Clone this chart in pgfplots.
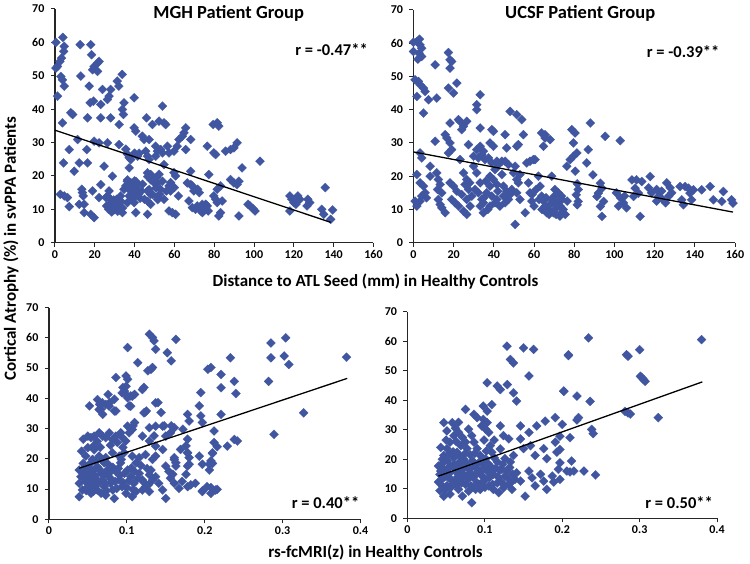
\documentclass[border=0pt]{standalone}
\usepackage{pgfplots}
\usepackage{pgfplotstable}
\pgfplotsset{compat=1.18}
\usepackage{fontspec}
\setmainfont{Carlito}
\definecolor{dotblue}{RGB}{64,86,161}

\pgfplotstableread{
x y
0.5 60
4 61.5
4.7 58.8
4.4 57.3
3.3 55.3
2.5 54.3
1.3 52.8
0.5 52.3
3 49.8
3.8 48.8
4.7 46.9
1.3 43.9
3.8 35.9
8 38.9
8.9 38.4
4.3 23.9
7.2 27.9
9.7 21.4
2.7 14.5
4.7 14
6.3 13.5
7.2 10.8
11.4 30.9
12.2 23.9
12.7 59.3
13 49.9
13.5 16
13.8 15
14.2 14
12.2 11.5
14.7 11.5
14.7 9
16 27.9
16.4 23.9
16.4 37.4
17.2 46.9
17.7 41.9
19.4 42.4
18 59.3
18.4 56.3
18.9 51.8
19.7 52.8
21.4 53.8
22.2 54.3
21.4 51.3
19.7 30.4
18.9 15.5
18 8.5
19.7 7.5
22.2 29.9
23 41.4
23 37.4
23.9 45.9
24.7 22.9
23 17.4
22.2 13.5
25.6 13.5
26.4 14
27.2 15.5
26.4 29.9
27.2 43.9
26.4 42.9
28 45.9
28 37.4
28.9 19.9
28 12
29 11
30 10
29.5 12.8
31 13
31.8 11.5
32.5 9.8
28.1 12.9
30.7 11.4
29.8 9.9
32.3 10.9
31.5 9.4
33.2 12.4
34 10.4
31.3 48.4
32.1 46.9
33.8 50.4
32.3 35.4
34.7 41.9
33.9 39.9
34.4 38.4
32.2 29.4
34.7 16
35.6 17
36.4 18.4
35.6 28
36.4 26.5
37.3 25.5
38.1 24.9
37.3 22.4
37.3 14
38.9 13
39.8 12
36.4 12
33.9 9
36.5 18.8
38.2 17.9
39.8 16.8
37.3 15.9
39 14.9
40.7 18.3
41.6 14.9
38.2 12.9
39.8 13.9
39.8 43.4
39.8 34.4
40.6 33.4
40 26.8
41.5 25.9
42.3 26.8
40 18.5
41.5 17.5
40.6 16.5
42 14.5
43.5 15.5
42.8 13.3
40.6 9
43.9 31.9
44.8 30.9
45.6 27.4
46.5 25.9
47.3 24.9
46 37.4
47.3 30.9
46.5 20.9
47.3 19.9
48.1 20.4
46.5 15.5
48.1 14.5
46.5 8.5
48.1 11.5
46.6 19.8
48.2 18.8
49.9 17.9
47.4 15.9
49.1 14.4
50.8 16.4
51.6 12.9
46.6 12.4
49 35.4
50.6 28.9
51.5 27.4
50.6 25.9
51 19.5
52.3 20.5
51.5 17.8
51.8 13.5
52.6 14.5
52.3 36.4
54 40.9
54.8 35.9
55.6 35.4
53.1 27.9
54 26.9
54.8 23.4
54 18.4
54.8 13
56.5 28.9
57.3 26.9
57.3 17
58.1 18
58.1 15.5
57.3 9.5
59 9
60.6 8.5
59.8 21
60.6 20
59.8 27.4
61.4 28.9
62.3 30.9
64 31.9
64.8 32.9
65.7 34.4
65.7 27.9
66.5 17.9
68.2 17.4
69 17
69.8 15.5
67.3 12.5
68.2 30.9
68.2 21.4
69 10.5
70.6 10
71.5 11
72.5 10.5
73.3 9.5
74.1 9
74.9 10
71.7 16
72.5 15
76.5 28.9
77.3 20.4
75.7 11.5
76.5 11
79.8 26.9
80.7 26.4
79.5 35.4
81.5 35.9
82.3 34.9
79.8 14
80.7 13
81.5 12
81.5 16
83.2 17
83.2 9
82.3 8
84 12.5
85.7 27.4
88.2 27.9
89.9 28.4
88.2 18.9
89.9 17.9
91.5 17.4
92.4 18.4
92.4 8
94 22.4
91.5 29.9
97 11.5
98 11
99.5 10.2
100.5 9.5
103 24.4
118 14
119 13
120 12
118 9.5
122 14
123 13
121 11.5
127 13
128 12
126.6 11
135.8 16.5
134 10
135 8.5
138.5 7
139.5 9.8
26 11
27 10
28.5 9.2
30.5 12.2
33 14
44 17.5
45 13
53 16
56 15.5
60 16.5
62 14
74 11.5
77 9.5
}\mgha

\pgfplotstableread{
x y
0 60.3
1.7 60.5
3 61.2
3.3 59.5
4.1 58.5
2.8 57
4.1 56
2.2 55.2
0 57.5
0.8 49
2.5 48.5
1.7 44
3.3 47.5
5 46.5
5.8 45.5
5 39
7.5 43
11.6 43.5
10.8 53.5
17.4 57.2
18.2 55
18.2 52.5
17.4 46.5
19 54.5
19.9 45
21.6 48
3.3 27
4.1 25.5
1.7 20.5
3.3 18
5 17
5.8 15
4.1 14
3.3 12.5
0.8 12.5
1.7 11
6.5 13.5
8.3 20
8.3 23
10.8 30.5
11.6 21
12.4 19
13.3 17.5
12 16
14.1 15
12.4 13
13.3 11.5
14.1 10.5
15.8 9
15.8 32.5
16.6 31.5
17.4 27
19 28
18.2 36
18.2 30
18.2 18
19.9 17
21.6 15.5
19 13
20.7 12
22.4 11
22.4 37
23.2 36.5
24.9 35
24 34
26.5 36.5
23.2 25
24.9 21
26.5 19
25.7 17.5
27.4 16
24 14.5
26.5 13
24.9 9.5
28.2 11
26.5 8.5
27.4 29.5
29.9 26
31.5 41.5
31.5 40
33.2 44.5
33.2 34.5
31.5 28
33.2 29
34.8 27.5
34 26.5
35.6 25
32.3 25.5
29.9 23
31.5 21
33.2 18
30.7 16
32.3 15
34 13
34.8 12
33.2 11
34.8 9
39 34
39.8 33.5
38.1 30
39.8 29
37.3 25.5
39 24
41.5 24.5
42.3 23.5
44 24.5
38.1 20
39.8 19
40.6 22
41.5 17.5
38.1 17
36.4 15
39 14
40.6 12
38.1 11
41.5 13
45.6 32.5
46.4 28.5
45.6 24.5
47.3 23.5
44.8 17
46.4 15.5
48.1 14.5
44.8 14
47.3 13
45.6 12
48.1 39.5
50.6 23
51.4 29
52.2 29.5
51.4 38.5
53.9 37
54.7 32.5
49.8 21
51.4 19
53 20.5
52.2 18
50.6 5.5
48.9 16
51.4 15
53 13
56.4 24
58 24.5
59.7 25
60.5 25
55.6 9
57.2 18
58 15
58.9 12.5
62.2 20
63 17
63.8 14
64.7 12.5
65.5 11
66.3 9
67.1 10
68 11.5
68.8 13
69.6 9
70.4 10
71.2 11.5
72 12.5
72.9 8
73.7 9
74.5 10
63.8 33
65.5 32.5
65.5 31.5
64.7 29
68 31
68.8 20
70.4 16
72 15
73.7 14
76.3 23
78 25
79.6 26
78.8 34
80.4 33
79.6 30
81.3 27
80.5 21.5
81.5 17.7
82 16
81 14.4
82 12.4
81.5 11.4
87 28
88 36
86.2 24
89.3 20.4
93 17.9
93.8 16.4
92 14.9
91.3 13.9
94.6 12.4
93 10.9
93.8 7.9
95.4 32
102.9 30.7
101 15
103 13.5
104.5 12
102 11
105 14
106 10.5
108.7 18.9
111 18.9
113.6 18.4
110.3 16.4
112 14.9
109.5 13.9
112.8 7.9
117.8 19.9
117 16.5
118.5 15
121 16
122 14
121 12.5
124 13
123.5 15.5
126 18
127.7 16.5
127 14
125.5 12
128.5 15
132.7 16.9
135.2 16.9
136.8 16.4
137.6 14.9
133.5 12.9
134.3 11.4
138.4 12.9
139.3 15.9
143.4 15.9
147.6 16.9
149.2 12.9
153.4 12.4
154.2 15.4
158.3 12.9
159 11.9
61 16
62.5 13
64 10
66 13.5
67.5 8.5
69 12
70 14
71 8.5
73 11
74 13
75.5 8.5
76.5 12.5
60 11
59 14.5
36 18.5
35 13.5
37 10
42 15.5
43 11
29 14
28 18
44 20.5
}\ucsfa

\pgfplotstableread{
x y
0.129 61.2
0.133 60.1
0.135 59
0.137 56.2
0.163 59.5
0.152 55.1
0.157 52.4
0.101 56.8
0.114 51.8
0.127 49.1
0.131 49.6
0.133 50.2
0.086 46.9
0.099 47.4
0.101 46.3
0.095 43.6
0.097 42.4
0.099 41.3
0.105 40.8
0.11 41.3
0.122 43.6
0.103 37.5
0.052 37.5
0.065 38
0.067 36.4
0.069 34.7
0.076 41.3
0.078 38.6
0.084 39.7
0.086 35.8
0.123 35.3
0.125 35.8
0.14 38.6
0.144 35.3
0.157 30.9
0.161 30.3
0.148 30.9
0.172 29.8
0.129 30.3
0.135 27.6
0.11 32
0.108 30.9
0.105 29.8
0.050 27.5
0.054 27
0.058 27.5
0.050 23.7
0.057 24.2
0.0645 28.6
0.0688 27.5
0.073 27
0.0774 28.6
0.0816 26.4
0.0859 27.5
0.088 25.4
0.0923 28.6
0.0944 27
0.0987 25.9
0.103 28.6
0.107 29.7
0.101 30.8
0.0474 20.9
0.056 19.8
0.0645 20.9
0.073 20.4
0.0816 22
0.0902 20.9
0.0966 22
0.107 20.9
0.116 20.4
0.124 21.4
0.133 19.8
0.137 20.9
0.0389 16.3
0.041 14.1
0.039 11.9
0.043 9.7
0.039 7.5
0.047 17.4
0.050 14.7
0.047 12.5
0.052 10.2
0.054 8.6
0.056 15.8
0.060 13.6
0.058 11.4
0.062 17.4
0.067 15.2
0.069 13
0.071 10.8
0.067 8.6
0.075 16.3
0.077 14.1
0.079 11.9
0.082 9.7
0.084 6.9
0.086 15.8
0.090 13
0.094 10.8
0.099 8.6
0.101 16.3
0.105 14.1
0.109 11.9
0.112 9.2
0.116 15.2
0.120 13
0.124 10.8
0.129 9.2
0.131 16.3
0.137 14.1
0.141 11.9
0.146 9.7
0.150 6.9
0.154 15.8
0.156 13.6
0.161 11.9
0.167 10.2
0.171 12.5
0.178 10.8
0.182 11.4
0.188 11.9
0.197 9.2
0.203 10.8
0.208 8.6
0.214 9.7
0.161 20.4
0.163 18.7
0.169 23.1
0.178 22
0.180 20.4
0.178 17.6
0.176 14.9
0.193 20.9
0.197 18.2
0.206 16.3
0.210 18.5
0.210 21.8
0.216 24
0.052 18.2
0.045 15.8
0.054 13
0.050 10.8
0.062 9.7
0.073 8
0.107 7.5
0.12 9.7
0.129 14.7
0.092 18.7
0.071 18.7
0.060 19.3
0.112 18.7
0.150 17.6
0.146 23.1
0.137 24.2
0.129 25.9
0.120 27.5
0.150 27.5
0.156 28.6
0.137 30.8
0.0624 39.6
0.0688 38.5
0.073 38
0.0645 36.3
0.0774 37.4
0.084 35.8
0.101 40.2
0.105 37.4
0.094 41.8
0.099 44
0.107 40.7
0.120 42.9
0.122 35.2
0.137 38.5
0.146 30.8
0.285 58.3
0.304 60
0.233 53.4
0.285 53.4
0.302 54
0.308 51.2
0.221 47.9
0.238 45.6
0.282 45.6
0.221 43.5
0.240 41.6
0.221 34.7
0.327 35.2
0.289 28.1
0.238 26.4
0.242 25.9
0.229 24.2
0.216 9.9
0.382 53.6
0.204 49.6
0.208 50.2
0.195 41.9
0.178 34.7
0.18 32.5
0.193 37.5
0.195 34.2
0.197 32
0.212 29.2
0.212 25.4
0.21 22
0.208 19.3
0.206 18.2
0.197 9.4
0.208 10.5
0.178 26.5
0.176 24.3
0.178 22
0.18 18.2
0.161 19.8
0.163 17.6
0.159 14.9
0.044 18.5
0.046 13.5
0.048 9.5
0.053 16.8
0.055 12.2
0.057 9.2
0.059 14.5
0.063 11.8
0.065 16.5
0.068 19.5
0.070 14.8
0.072 12
0.074 9.5
0.076 18.2
0.078 15.5
0.080 13.2
0.082 17.2
0.085 12.5
0.087 10.2
0.089 16.8
0.091 14.5
0.093 19.8
0.095 12.2
0.097 15.2
0.100 10.5
0.103 12.8
0.106 17
0.108 9.8
0.110 15.8
0.114 13.5
0.118 17.8
0.122 12.2
0.126 16.8
0.128 11.5
0.133 13
0.042 22.5
0.058 23
0.066 23.8
0.079 24.5
0.095 23.8
0.044 26.5
0.062 25.8
}\mghb

\pgfplotstableread{
x y
0.1286 58.3
0.150 57.7
0.163 57.2
0.133 53.8
0.137 52.6
0.157 48.2
0.103 45.9
0.116 44.8
0.120 43.6
0.129 45.3
0.137 42.5
0.141 39.7
0.109 38.5
0.098 38
0.103 36.3
0.075 36.9
0.086 35.2
0.090 34.1
0.098 33.5
0.103 32.4
0.096 31.3
0.101 30.2
0.105 29.1
0.047 32.4
0.058 32.4
0.051 29.6
0.060 28
0.055 25.8
0.066 29.1
0.071 27.4
0.069 24.6
0.075 25.8
0.079 30.2
0.083 28
0.086 25.8
0.090 23.6
0.077 23.6
0.064 22.4
0.051 23.6
0.047 21.3
0.094 21.3
0.101 20.2
0.107 24.6
0.109 22.4
0.124 28
0.131 26.9
0.120 31.3
0.146 31.3
0.157 29.1
0.167 31.3
0.178 32.9
0.191 34.1
0.202 43.1
0.208 55.4
0.159 24.6
0.165 21.3
0.176 23.6
0.180 20.2
0.191 25.8
0.193 22.4
0.146 26.9
0.150 23.6
0.137 21.3
0.133 19.1
0.126 20.2
0.116 19.1
0.040 17.7
0.042 14.9
0.040 12.3
0.042 9.4
0.047 7.5
0.051 16.6
0.053 13.7
0.051 11.0
0.055 8.2
0.060 18.3
0.064 15.4
0.062 12.6
0.066 9.8
0.071 7.5
0.073 17.1
0.077 14.3
0.075 11.5
0.079 9.2
0.083 5.3
0.086 17.7
0.088 14.9
0.090 12.0
0.094 9.8
0.096 16.0
0.101 13.2
0.105 11.0
0.107 17.7
0.111 14.9
0.116 12.0
0.118 8.7
0.122 16.6
0.126 14.3
0.131 11.5
0.135 9.8
0.141 15.4
0.146 12.6
0.152 7.5
0.157 16.0
0.161 13.7
0.165 11.0
0.172 14.9
0.176 12.6
0.180 9.8
0.187 14.3
0.189 12.3
0.195 16.6
0.047 16.6
0.055 17.7
0.069 16
0.081 15.4
0.092 18.8
0.103 16
0.058 11.5
0.088 9.8
0.111 9.8
0.124 10.3
0.044 13.2
0.069 13.2
0.096 12
0.060 20.5
0.073 20
0.045 20
0.120 23.5
0.234 61.1
0.380 60.5
0.208 55.1
0.283 55.4
0.285 54.9
0.300 57.1
0.301 48.1
0.303 47.6
0.305 47
0.307 46.4
0.202 43.0
0.219 41.4
0.236 39.6
0.221 34.1
0.219 33.3
0.281 36.2
0.285 35.7
0.288 35.3
0.324 34.1
0.238 30.1
0.240 28.7
0.210 27.3
0.200 31.8
0.197 27.8
0.197 23.3
0.197 18.8
0.212 19.4
0.206 16.0
0.210 15.7
0.215 16.0
0.228 16.0
0.243 14.7
0.197 13.2
0.043 16
0.045 11
0.046 18.8
0.048 14
0.049 9.8
0.052 19.5
0.054 15.2
0.056 10.5
0.057 13
0.059 22.5
0.061 16.8
0.063 11.2
0.065 14
0.067 19
0.068 17.5
0.070 12
0.072 15
0.074 21.8
0.076 18.5
0.078 13.2
0.080 16.5
0.082 11
0.084 19.5
0.085 13.8
0.087 22
0.089 17
0.091 15.5
0.093 11.5
0.095 19
0.097 14.2
0.099 17.2
0.100 10.5
0.102 22.8
0.104 18.5
0.106 13.8
0.108 15.8
0.110 11.5
0.112 20.5
0.114 17
0.117 14
0.119 16.2
0.121 12.5
0.123 18.3
0.125 11.2
0.128 16
0.130 13.5
0.132 17.2
0.134 12.2
0.136 15
0.139 13.2
0.043 24
0.050 26.5
0.063 26
0.068 21
0.081 21.5
0.099 26.5
0.112 26.5
0.054 21.8
0.066 32.5
0.062 30.5
}\ucsfb

\pgfplotsset{
  panel/.style={
    set layers,
    scale only axis,
    anchor=south west,
    axis lines*=left,
    axis line style={line width=1.2pt, black!85},
    tick align=outside,
    major tick length=4pt,
    tick style={line width=1pt, black!85},
    ymin=0, ymax=70, ytick={0,10,20,30,40,50,60,70},
    /pgf/number format/assume math mode=true,
    ticklabel style={font=\bfseries\fontsize{12}{13}\selectfont},
    yticklabel style={xshift=-3pt},
    clip=false,
  },
  dots/.style={only marks, mark=square*, mark size=3.2pt,
    mark options={rotate=45, fill=dotblue, draw=dotblue, line width=0.2pt}},
  trend/.style={black, line width=1.3pt, no marks, on layer=axis foreground},
}

\begin{document}
\begin{tikzpicture}
\path (0pt,0pt) rectangle (750pt,563pt);

\begin{axis}[panel, at={(54pt,320pt)}, width=319pt, height=234pt,
  xmin=0, xmax=160, xtick={0,20,...,160}]
\addplot[dots] table[x=x,y=y] {\mgha};
\addplot[trend] coordinates {(0,33.7) (138.5,6.1)};
\end{axis}

\begin{axis}[panel, at={(413pt,320pt)}, width=322pt, height=233pt,
  xmin=0, xmax=160, xtick={0,20,...,160}]
\addplot[dots] table[x=x,y=y] {\ucsfa};
\addplot[trend] coordinates {(0,27.3) (159,9.2)};
\end{axis}

\begin{axis}[panel, at={(48pt,43pt)}, width=312pt, height=212pt,
  xmin=0, xmax=0.4, xtick={0,0.1,0.2,0.3,0.4}]
\addplot[dots] table[x=x,y=y] {\mghb};
\addplot[trend] coordinates {(0.039,16.9) (0.383,46.6)};
\end{axis}

\begin{axis}[panel, at={(407pt,44pt)}, width=310pt, height=207pt,
  xmin=0, xmax=0.4, xtick={0,0.1,0.2,0.3,0.4}]
\addplot[dots] table[x=x,y=y] {\ucsfb};
\addplot[trend] coordinates {(0.04,14.3) (0.381,46.2)};
\end{axis}

\node[font=\bfseries\fontsize{18.5}{20}\selectfont] at (228pt,550pt) {MGH Patient Group};
\node[font=\bfseries\fontsize{18.5}{20}\selectfont] at (580pt,550pt) {UCSF Patient Group};
\node[font=\bfseries\fontsize{16.5}{18}\selectfont] at (331pt,513pt) {r = -0.47**};
\node[font=\bfseries\fontsize{16.5}{18}\selectfont] at (683pt,511pt) {r = -0.39**};
\node[font=\bfseries\fontsize{16.5}{18}\selectfont] at (325pt,60pt) {r = 0.40**};
\node[font=\bfseries\fontsize{16.5}{18}\selectfont] at (679pt,60pt) {r = 0.50**};
\node[font=\bfseries\fontsize{17}{18}\selectfont] at (375pt,281pt) {Distance to ATL Seed (mm) in Healthy Controls};
\node[font=\bfseries\fontsize{17}{18}\selectfont] at (375pt,10pt) {rs-fcMRI(z) in Healthy Controls};
\node[font=\bfseries\fontsize{17}{18}\selectfont, rotate=90] at (10pt,314pt) {Cortical Atrophy (\%) in svPPA Patients};
\end{tikzpicture}
\end{document}
